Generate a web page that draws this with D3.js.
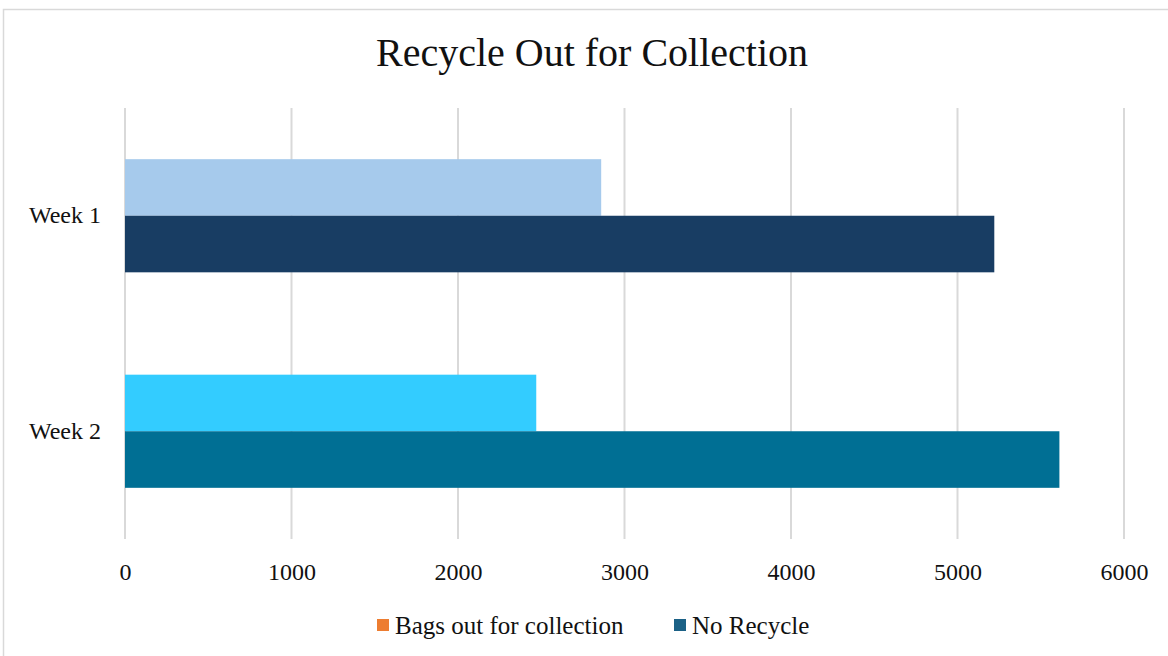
<!DOCTYPE html>
<html><head><meta charset="utf-8">
<script src="https://cdn.jsdelivr.net/npm/d3@7"></script>
<style>html,body{margin:0;padding:0;background:#fff;}svg{display:block;}</style>
</head><body>
<svg id="chart" width="1168" height="656"></svg>
<script>
const categories = ["Week 1", "Week 2"];
const seriesNames = ["Bags out for collection", "No Recycle"];
const bagsOut = [2860, 2470];
const noRecycle = [5221, 5612];
const tickValues = [0, 1000, 2000, 3000, 4000, 5000, 6000];
const barColors = [["#A6CAEC", "#33CCFF"], ["#183D63", "#006F94"]];
const legendColors = ["#ED7D31", "#1B6186"];
const title = "Recycle Out for Collection";

const font = "'Liberation Serif', 'DejaVu Serif', serif";
const svg = d3.select("#chart");
const W = 1168, H = 656;
const m = {left: 125, right: 44, top: 108, bottom: 117};

svg.append("rect").attr("x", 3.5).attr("y", 9.5).attr("width", 1170).attr("height", 660)
  .attr("fill", "#fff").attr("stroke", "#d9d9d9").attr("stroke-width", 1.5);

const x = d3.scaleLinear().domain([0, 6000]).range([m.left, W - m.right]);
const y0 = d3.scaleBand().domain(categories).range([m.top, H - m.bottom]).paddingInner(0.475).paddingOuter(0.2375);
const y1 = d3.scaleBand().domain(seriesNames).range([0, y0.bandwidth()]);

// gridlines
svg.append("g").selectAll("line").data(tickValues).join("line")
  .attr("x1", d => x(d)).attr("x2", d => x(d))
  .attr("y1", m.top).attr("y2", H - m.bottom)
  .attr("stroke", "#d9d9d9").attr("stroke-width", 2);

const data = [bagsOut, noRecycle];
seriesNames.forEach((s, si) => {
  svg.append("g").selectAll("rect").data(categories).join("rect")
    .attr("x", x(0))
    .attr("y", c => y0(c) + y1(s))
    .attr("width", (c, ci) => x(data[si][ci]) - x(0))
    .attr("height", y1.bandwidth())
    .attr("fill", (c, ci) => barColors[si][ci]);
});

// x axis labels
const xAxis = d3.axisBottom(x).tickValues(tickValues).tickSize(0).tickPadding(0).tickFormat(d3.format("d"));
const gx = svg.append("g").attr("transform", `translate(0,${H - m.bottom + 41})`).call(xAxis);
gx.select(".domain").remove();
gx.selectAll("text").attr("font-family", font).attr("font-size", 24).attr("fill", "#111").attr("dy", 0);

// y axis labels
const yAxis = d3.axisLeft(y0).tickSize(0).tickPadding(24);
const gy = svg.append("g").attr("transform", `translate(${m.left},0)`).call(yAxis);
gy.select(".domain").remove();
gy.selectAll("text").attr("font-family", font).attr("font-size", 24).attr("fill", "#111");

// title
svg.append("text").attr("x", 592).attr("y", 66).attr("text-anchor", "middle")
  .attr("font-family", font).attr("font-size", 40).attr("fill", "#111").text(title);

// legend
const legendX = [377, 674];
const lg = svg.append("g");
seriesNames.forEach((s, i) => {
  lg.append("rect").attr("x", legendX[i]).attr("y", 619).attr("width", 12).attr("height", 12).attr("fill", legendColors[i]);
  lg.append("text").attr("x", legendX[i] + 18).attr("y", 634).attr("font-family", font)
    .attr("font-size", 25).attr("fill", "#111").text(s);
});
</script>
</body></html>
